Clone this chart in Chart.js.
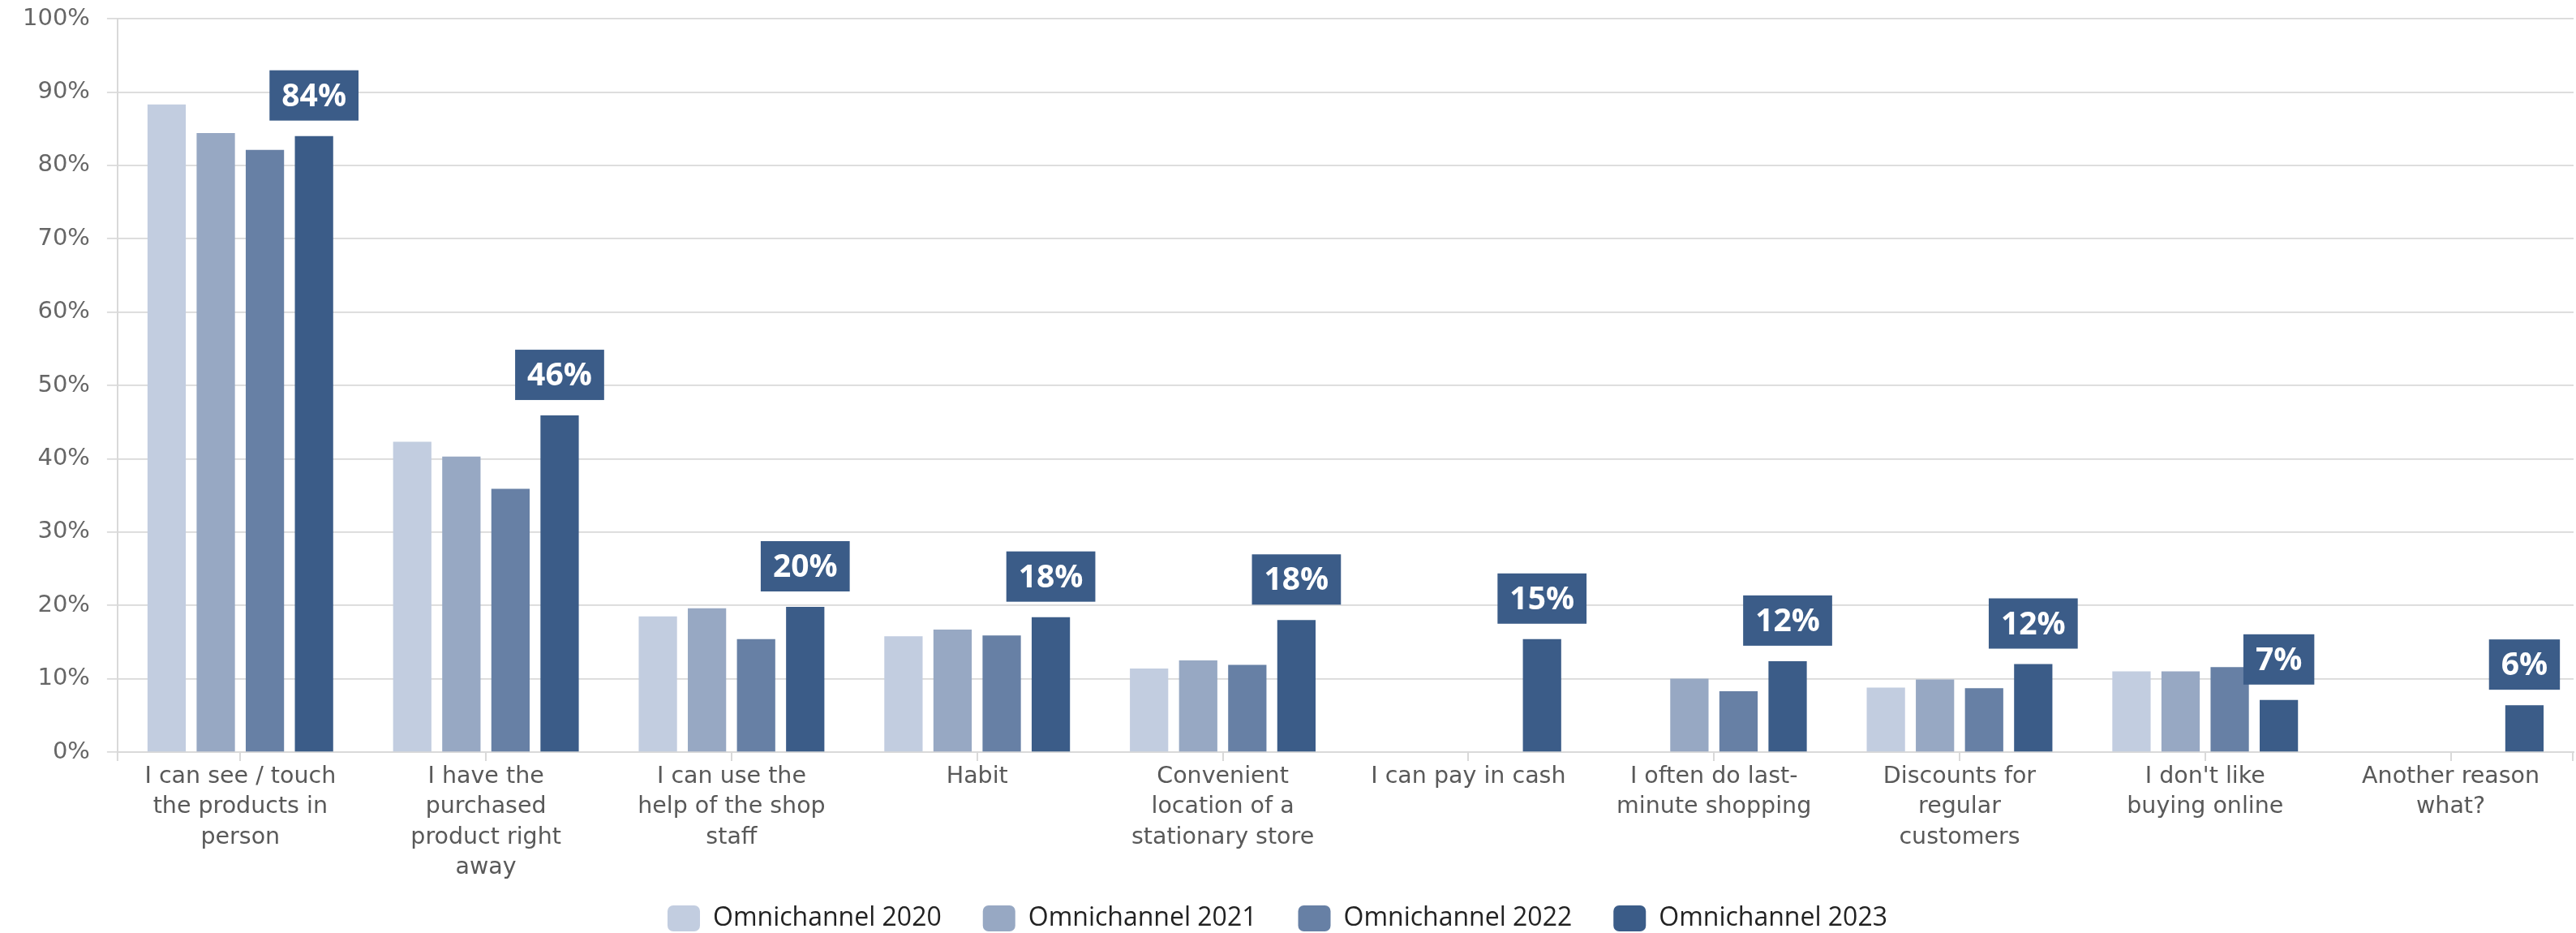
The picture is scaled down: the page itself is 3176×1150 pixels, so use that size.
<!DOCTYPE html>
<html>
<head>
<meta charset="utf-8">
<title>Reasons for shopping in a stationary store</title>
<script src="https://cdn.jsdelivr.net/npm/chart.js@4/dist/chart.umd.min.js"></script>
<style>
  html, body { margin: 0; padding: 0; background: #ffffff; }
  #wrap { width: 3176px; height: 1150px; position: relative; }
</style>
</head>
<body>
<div id="wrap"><canvas id="chart"></canvas></div>
<script>
// Reasons, one multi-line label per category
const categories = [
  ['I can see / touch', 'the products in', 'person'],
  ['I have the', 'purchased', 'product right', 'away'],
  ['I can use the', 'help of the shop', 'staff'],
  ['Habit'],
  ['Convenient', 'location of a', 'stationary store'],
  ['I can pay in cash'],
  ['I often do last-', 'minute shopping'],
  ['Discounts for', 'regular', 'customers'],
  ["I don't like", 'buying online'],
  ['Another reason', 'what?']
];

// Share of respondents (%) per survey wave; null = not asked that year
const omni2020 = [88.3, 42.3, 18.5, 15.8, 11.4, null, null, 8.8, 11.0, null];
const omni2021 = [84.4, 40.3, 19.6, 16.7, 12.5, null, 10.0, 9.9, 11.0, null];
const omni2022 = [82.1, 35.9, 15.4, 15.9, 11.9, null, 8.3, 8.7, 11.6, null];
const omni2023 = [84.0, 45.9, 19.8, 18.4, 18.0, 15.4, 12.4, 12.0, 7.1, 6.4];

const seriesNames = ['Omnichannel 2020', 'Omnichannel 2021', 'Omnichannel 2022', 'Omnichannel 2023'];
const seriesColors = ['#c2cde0', '#97a8c3', '#6780a5', '#3b5c88'];

// y-axis tick values
const yTicks = [0, 10, 20, 30, 40, 50, 60, 70, 80, 90, 100];

const GRID = '#d9d9d9';

// Value boxes above the latest wave's bars
const valueBoxes = {
  id: 'valueBoxes',
  afterDatasetsDraw(chart) {
    const ctx = chart.ctx;
    const dsIndex = chart.data.datasets.length - 1;
    const meta = chart.getDatasetMeta(dsIndex);
    const values = chart.data.datasets[dsIndex].data;
    ctx.save();
    ctx.font = 'bold 39px "Open Sans"';
    ctx.textAlign = 'center';
    ctx.textBaseline = 'middle';
    meta.data.forEach((bar, i) => {
      const v = values[i];
      if (v === null || v === undefined) return;
      const text = Math.round(v) + '%';
      const w = ctx.measureText(text).width + 30;
      const h = 62;
      const bottom = bar.y - 19;
      ctx.fillStyle = seriesColors[dsIndex];
      ctx.fillRect(bar.x - w / 2, bottom - h, w, h);
      ctx.fillStyle = '#ffffff';
      ctx.fillText(text, bar.x, bottom - h / 2 + 2);
    });
    ctx.restore();
  }
};

// Small tick marks at both ends of the category axis
const edgeTicks = {
  id: 'edgeTicks',
  afterDraw(chart) {
    const {ctx, chartArea} = chart;
    ctx.save();
    ctx.strokeStyle = GRID;
    ctx.lineWidth = 2;
    ctx.beginPath();
    [chartArea.left, chartArea.right - 1].forEach(x => {
      ctx.moveTo(x, chartArea.bottom);
      ctx.lineTo(x, chartArea.bottom + 11);
    });
    ctx.stroke();
    ctx.restore();
  }
};

// Let the category labels run into the legend band instead of being clipped,
// and nudge the legend row slightly left
const layoutTweaks = {
  id: 'layoutTweaks',
  afterLayout(chart) {
    if (chart.legend) {
      chart.legend.left -= 15;
      chart.legend.right -= 15;
    }
  },
  beforeDraw(chart) {
    const x = chart.scales.x;
    if (x) x._computeLabelArea = () => undefined;
  }
};

Chart.defaults.font.family = '"DejaVu Sans", sans-serif';

const seriesData = [omni2020, omni2021, omni2022, omni2023];

new Chart(document.getElementById('chart'), {
  type: 'bar',
  data: {
    labels: categories,
    datasets: seriesNames.map((name, i) => ({
      label: name,
      data: seriesData[i],
      backgroundColor: seriesColors[i],
      borderWidth: 0,
      categoryPercentage: 0.8,
      barPercentage: 0.78
    }))
  },
  options: {
    responsive: true,
    maintainAspectRatio: false,
    animation: false,
    layout: { padding: { top: 23, left: 7, right: 3, bottom: -8 } },
    scales: {
      x: {
        grid: {
          display: true,
          drawOnChartArea: false,
          offset: false,
          tickLength: 11,
          color: GRID,
          lineWidth: 2
        },
        border: { display: true, color: GRID, width: 2 },
        ticks: {
          maxRotation: 0,
          autoSkip: false,
          padding: 1,
          color: '#595959',
          font: { size: 28.5, lineHeight: 1.31 }
        },
        afterFit(scale) { scale.height = 138; }
      },
      y: {
        min: 0,
        max: 100,
        afterBuildTicks(scale) { scale.ticks = yTicks.map(v => ({ value: v })); },
        afterFit(scale) { scale.paddingTop = 0; scale.paddingBottom = 0; },
        grid: { color: GRID, lineWidth: 1.7, tickLength: 13 },
        border: { display: true, color: GRID, width: 2 },
        ticks: {
          padding: 21,
          color: '#666666',
          font: { size: 29 },
          callback: v => v + '%'
        }
      }
    },
    plugins: {
      legend: {
        position: 'bottom',
        labels: {
          color: '#222222',
          font: { family: '"Open Sans", sans-serif', size: 32 },
          boxWidth: 40,
          boxHeight: 32,
          useBorderRadius: true,
          borderRadius: 7,
          padding: 51
        }
      },
      tooltip: { enabled: false }
    }
  },
  plugins: [valueBoxes, edgeTicks, layoutTweaks]
});
</script>
</body>
</html>
